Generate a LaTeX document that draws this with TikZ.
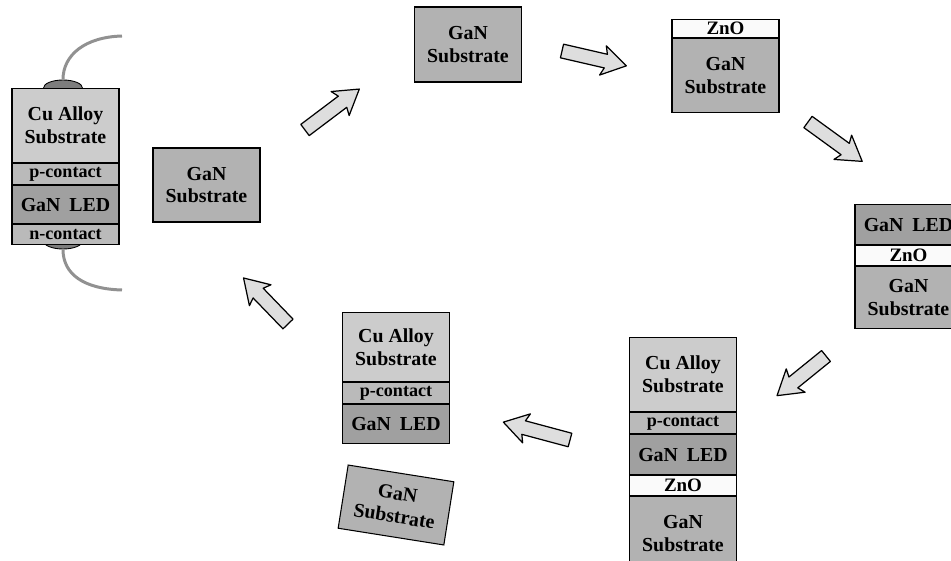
\documentclass[tikz,border=0pt]{standalone}
\usepackage{fontspec}
\setmainfont{Liberation Serif}
\usepackage{tikz}
\usetikzlibrary{positioning}
\usetikzlibrary{shapes.geometric}
\definecolor{cualloy}{RGB}{204,204,204}
\definecolor{pcont}{RGB}{186,186,186}
\definecolor{ledgray}{RGB}{160,160,160}
\definecolor{gangray}{RGB}{178,178,178}
\definecolor{znowhite}{RGB}{250,250,250}
\definecolor{arrowgray}{RGB}{222,222,222}
\definecolor{blobgray}{RGB}{125,125,125}
\definecolor{wiregray}{RGB}{145,145,145}
\tikzset{
    wafer diagram/.style={
            x=0.02cm,y=-0.02cm,
            layer/.style={draw, line width=0.6pt, minimum width=2.14cm, inner sep=0pt,
                align=center, font=\fontsize{11.3}{13}\selectfont\bfseries},
            cu/.style={layer, fill=cualloy, minimum height=1.48cm},
            pcon/.style={layer, fill=pcont, minimum height=0.42cm,
                font=\fontsize{10.3}{12}\selectfont\bfseries},
            led/.style={layer, fill=ledgray, minimum height=0.8cm},
            zno/.style={layer, fill=znowhite, minimum height=0.4cm,
                font=\fontsize{10.8}{12}\selectfont\bfseries},
            gan/.style={layer, fill=gangray, minimum height=1.48cm},
            blob/.style={ellipse, draw, line width=0.5pt, fill=blobgray,
                minimum width=0.78cm, minimum height=0.32cm, inner sep=0pt},
            wire/.style={wiregray, line width=1.7pt},
            arrowbody/.style={draw, line width=0.7pt, fill=arrowgray, line join=round}
        }
    }
% block arrow: tail point, angle, length
\newcommand{\fatarrow}[3]{%
    \begin{scope}[shift={#1}, rotate=#2]
        \draw [arrowbody] (0,-7) -- ({#3-21},-7) -- ({#3-24},-15) -- (#3,0)
            -- ({#3-24},15) -- ({#3-21},7) -- (0,7) -- cycle;
    \end{scope}}

\begin{document}
\begin{tikzpicture}[wafer diagram]
        \useasboundingbox (0,0) rectangle (951,561);

        % finished device with leads
        \node [blob] (blobT) at (63,88) {};
        \node [blob] (blobB) at (63,241) {};
        \coordinate (leadT) at (122,36);
        \coordinate (leadB) at (122,290);
        \draw [wire] (blobT.north) .. controls (63,55) and (85,37) .. (leadT);
        \draw [wire] (blobB.south) .. controls (63,275) and (85,289) .. (leadB);
        \node [cu, anchor=north] (cuL) at (65.5,88) {Cu Alloy\\Substrate};
        \node [pcon, below=0pt of cuL] (pL) {p-contact};
        \node [led, minimum height=0.76cm, below=0pt of pL] (ledL) {GaN\hspace{0.45em}LED};
        \node [pcon, minimum height=0.4cm, below=0pt of ledL] (nL) {n-contact};

        \node [gan] (ganB) at (206.5,185) {GaN\\Substrate};
        \node [gan, minimum height=1.5cm] (ganC) at (468,44.5) {GaN\\Substrate};

        \node [zno, minimum height=0.36cm, anchor=north] (znoD) at (725.5,19) {ZnO};
        \node [gan, below=0pt of znoD] (ganD) {GaN\\Substrate};

        \node [led, anchor=north] (ledE) at (908.5,204) {GaN\hspace{0.45em}LED};
        \node [zno, below=0pt of ledE] (znoE) {ZnO};
        \node [gan, minimum height=1.24cm, below=0pt of znoE] (ganE) {GaN\\Substrate};

        \node [cu, anchor=north] (cuF) at (683,337) {Cu Alloy\\Substrate};
        \node [pcon, below=0pt of cuF] (pF) {p-contact};
        \node [led, below=0pt of pF] (ledF) {GaN\hspace{0.45em}LED};
        \node [zno, below=0pt of ledF] (znoF) {ZnO};
        \node [gan, minimum height=1.46cm, below=0pt of znoF] (ganF) {GaN\\Substrate};

        \node [cu, minimum height=1.38cm, anchor=north] (cuG) at (396,312) {Cu Alloy\\Substrate};
        \node [pcon, below=0pt of cuG] (pG) {p-contact};
        \node [led, minimum height=0.78cm, below=0pt of pG] (ledG) {GaN\hspace{0.45em}LED};
        \node [gan, minimum height=1.28cm, rotate=-9] (ganH) at (396,505) {GaN\\Substrate};

        % process arrows
        \fatarrow{(288,324)}{134}{64}
        \fatarrow{(305,130)}{37}{68}
        \fatarrow{(562,51)}{-13}{66}
        \fatarrow{(808,122)}{-36}{67}
        \fatarrow{(826,356)}{219}{63}
        \fatarrow{(570,440)}{165}{69}
    \end{tikzpicture}
\end{document}
